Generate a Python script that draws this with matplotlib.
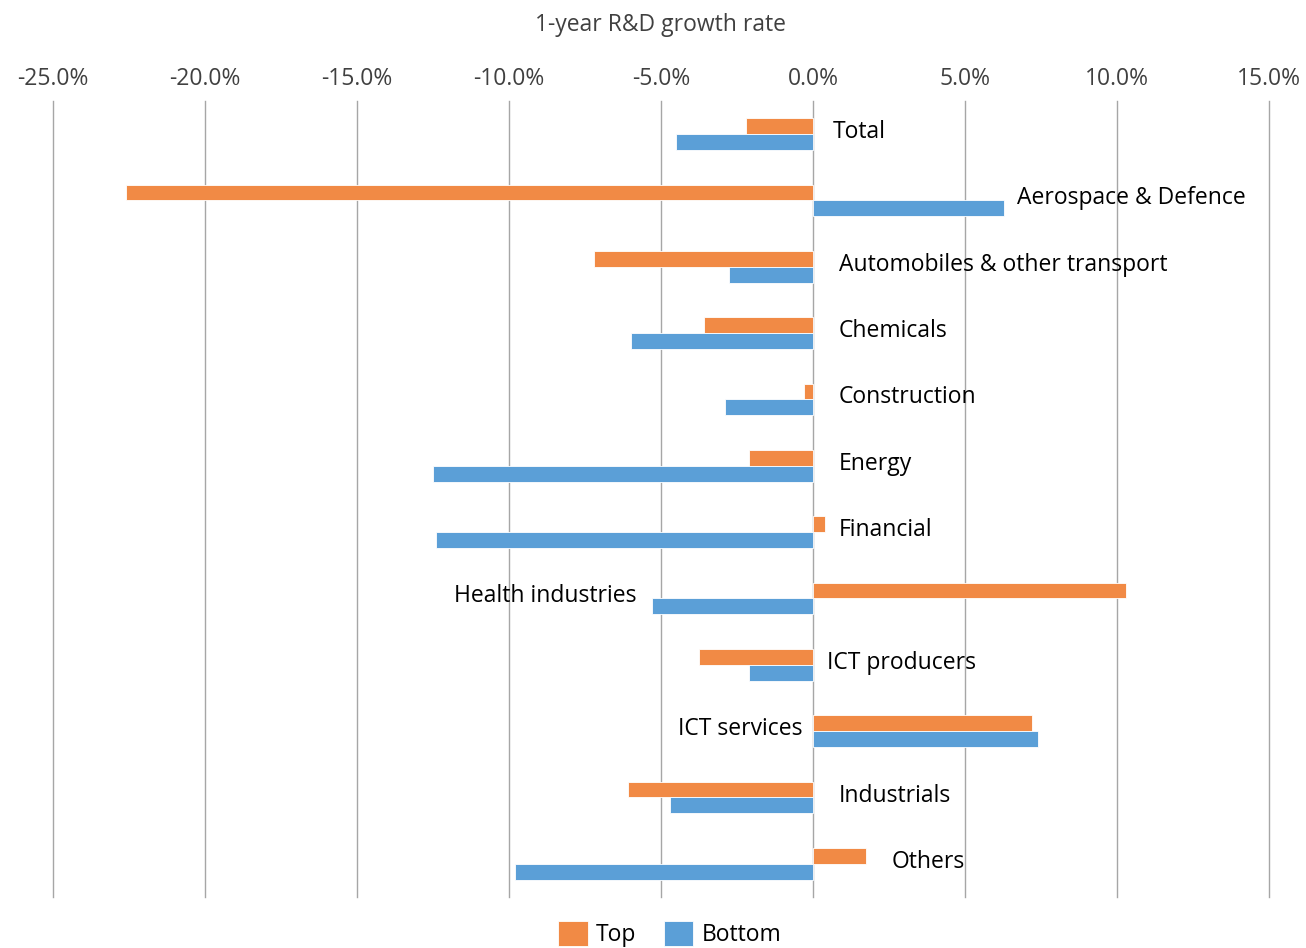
import numpy as np
import matplotlib
matplotlib.use('Agg')
import matplotlib.pyplot as plt
from matplotlib.ticker import PercentFormatter

plt.rcParams['font.family'] = ['Open Sans', 'DejaVu Sans']
plt.rcParams['axes.unicode_minus'] = False

# Data (1-year R&D growth rate, %)
sectors = ['Total', 'Aerospace & Defence', 'Automobiles & other transport', 'Chemicals',
           'Construction', 'Energy', 'Financial', 'Health industries', 'ICT producers',
           'ICT services', 'Industrials', 'Others']
top = [-2.2, -22.6, -7.2, -3.6, -0.3, -2.1, 0.4, 10.3, -3.75, 7.2, -6.1, 1.75]
bottom = [-4.5, 6.3, -2.75, -6.0, -2.9, -12.5, -12.4, -5.3, -2.1, 7.4, -4.7, -9.8]

# label anchor (x in %, alignment) placed like the original
label_x = [0.65, 6.7, 0.85, 0.85, 0.85, 0.85, 0.85, -5.8, 0.45, -0.35, 0.85, 2.6]
label_ha = ['left'] * 7 + ['right', 'left', 'right', 'left', 'left']

c_top = '#F18A45'
c_bot = '#5B9FD7'

fig = plt.figure(figsize=(13.06, 9.48), dpi=100)
ax = fig.add_axes([0.0406, 0.0538, 0.931, 0.8397])

y = np.arange(len(sectors))
h = 0.24
ax.barh(y - h / 2, top, height=h, color=c_top, edgecolor='white', linewidth=0.6, label='Top', zorder=3)
ax.barh(y + h / 2, bottom, height=h, color=c_bot, edgecolor='white', linewidth=0.6, label='Bottom', zorder=3)

for i, name in enumerate(sectors):
    ax.text(label_x[i], y[i] - 0.03, name, ha=label_ha[i], va='center', fontsize=16.5,
            color='black', zorder=4)

ax.set_xlim(-25, 15)
ax.set_ylim(len(sectors) - 0.5, -0.5)
ax.set_xticks(np.arange(-25, 16, 5))
ax.xaxis.set_major_formatter(PercentFormatter(decimals=1))
ax.xaxis.tick_top()
ax.xaxis.set_label_position('top')
ax.set_xlabel('1-year R&D growth rate', fontsize=16.5, color='#404040', labelpad=26)
ax.tick_params(axis='x', length=0, labelsize=16.5, labelcolor='#404040', pad=7)
ax.set_yticks([])
ax.grid(axis='x', color='#A6A6A6', linewidth=1, zorder=0)
for gl in ax.get_xgridlines():
    gl.set_clip_on(False)
for s in ax.spines.values():
    s.set_visible(False)

ax.legend(loc='upper center', bbox_to_anchor=(0.507, -0.004), ncol=2, frameon=False,
          fontsize=16.5, handlelength=1.3, handleheight=1.3, handletextpad=0.35,
          columnspacing=1.2)

fig.savefig('out.png', dpi=100)
